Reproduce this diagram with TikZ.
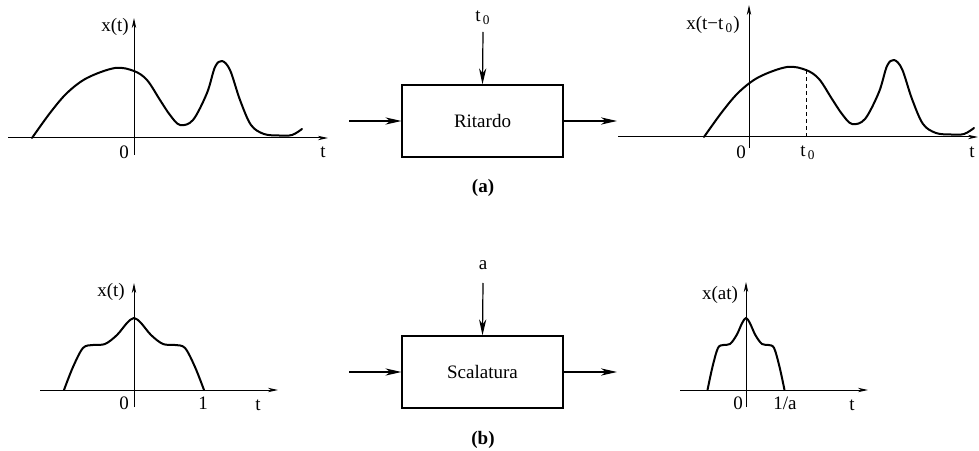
\documentclass[tikz,border=0pt]{standalone}
\usepackage{fontspec}
\setmainfont{Liberation Serif}
\usetikzlibrary{positioning,arrows.meta}

\begin{document}
\begin{tikzpicture}[x=0.5pt,y=0.5pt, font=\fontsize{9.5}{11}\selectfont,
    block/.style={draw, line width=0.6pt, minimum width=80.5pt, minimum height=36pt, inner sep=0pt},
    flow/.style={-{Stealth[length=8pt,width=3.6pt,inset=2.4pt]}, line width=0.6pt},
    axis/.style={-{Stealth[length=5pt,width=2.2pt,inset=1.5pt]}, line width=0.5pt},
    signal/.style={line width=1pt, line join=round, line cap=round},
    lbl/.style={inner sep=0pt}]

    \newcommand{\drawBump}[2]{
        \draw[signal, shift={(#1,#2)}] plot[smooth, tension=0.55] coordinates {
            (-102,0) (-84,25) (-67,45) (-47,60) (-19,70) (0,67) (13,58) (26,38)
            (36,23) (46,13) (59,18) (73,45) (81,71) (88,77) (96,68) (106,38)
            (117,13) (130,4) (145,2.5) (158,3) (168,9)};
    }
    \newcommand{\drawPulse}[3]{
        \draw[signal, shift={(#1,#2)}, xscale=#3] plot[smooth, tension=0.55] coordinates {
            (-70,0) (-61,23) (-51,42) (-41,45) (-29,46) (-17,55) (-7,67) (0,72)
            (7,67) (17,55) (29,46) (41,45) (51,42) (61,23) (70,0)};
    }

    \useasboundingbox (0,0) rectangle (979,450);

    % (a) ritardo
    \coordinate (aL1) at (8,312);   \coordinate (aR1) at (328,312);
    \coordinate (aB1) at (134,295); \coordinate (aT1) at (134,432);
    \draw[axis] (aL1) -- (aR1);
    \draw[axis] (aB1) -- (aT1);
    \node[lbl] (xa1) at (115,423) {x(t)};
    \node[lbl] (za1) at (124,298) {0};
    \node[lbl] (ta1) at (323,298) {t};
    \drawBump{134}{312}

    \node[block] (rit) at (482.5,329) {Ritardo};
    \coordinate (inA) at (349,329);
    \coordinate (outA) at (617,329);
    \coordinate (topA) at (483,418);
    \node[lbl] (tzA) at (483,432) {t\textsubscript{\,0}};
    \draw[flow] (inA) -- (rit.west);
    \draw[flow] (rit.east) -- (outA);
    \draw[flow] (topA) -- (rit.north);
    \node[lbl] (capA) at (483,262) {\textbf{(a)}};

    \coordinate (aL2) at (618,313); \coordinate (aR2) at (978,313);
    \coordinate (aB2) at (749,302); \coordinate (aT2) at (749,445);
    \draw[axis] (aL2) -- (aR2);
    \draw[axis] (aB2) -- (aT2);
    \node[lbl] (xa2) at (713,425) {x(t−t\textsubscript{\,0})};
    \node[lbl] (za2) at (741,298) {0};
    \node[lbl] (t0a2) at (808,297) {t\textsubscript{\,0}};
    \node[lbl] (ta2) at (972,298) {t};
    \coordinate (dBot) at (806,313); \coordinate (dTop) at (806,379);
    \draw[dash pattern=on 2pt off 1.5pt, line width=0.5pt] (dBot) -- (dTop);
    \drawBump{806}{313}

    % (b) scalatura
    \coordinate (bL1) at (40,60);   \coordinate (bR1) at (278,60);
    \coordinate (bB1) at (134,43);  \coordinate (bT1) at (134,167);
    \draw[axis] (bL1) -- (bR1);
    \draw[axis] (bB1) -- (bT1);
    \node[lbl] (xb1) at (111,158) {x(t)};
    \node[lbl] (zb1) at (124,47) {0};
    \node[lbl] (ub1) at (203,47) {1};
    \node[lbl] (tb1) at (258,45) {t};
    \drawPulse{134}{60}{1}

    \node[block] (sca) at (482.5,78) {Scalatura};
    \coordinate (inB) at (349,78);
    \coordinate (outB) at (617,78);
    \coordinate (topB) at (483,167);
    \node[lbl] (aB) at (483,185) {a};
    \draw[flow] (inB) -- (sca.west);
    \draw[flow] (sca.east) -- (outB);
    \draw[flow] (topB) -- (sca.north);
    \node[lbl] (capB) at (483,10) {\textbf{(b)}};

    \coordinate (bL2) at (680,60);  \coordinate (bR2) at (868,60);
    \coordinate (bB2) at (746,43);  \coordinate (bT2) at (746,168);
    \draw[axis] (bL2) -- (bR2);
    \draw[axis] (bB2) -- (bT2);
    \node[lbl] (xb2) at (720,155) {x(at)};
    \node[lbl] (zb2) at (738,47) {0};
    \node[lbl] (ub2) at (785,47) {1/a};
    \node[lbl] (tb2) at (852,45) {t};
    \drawPulse{746}{60}{0.55}
\end{tikzpicture}
\end{document}
